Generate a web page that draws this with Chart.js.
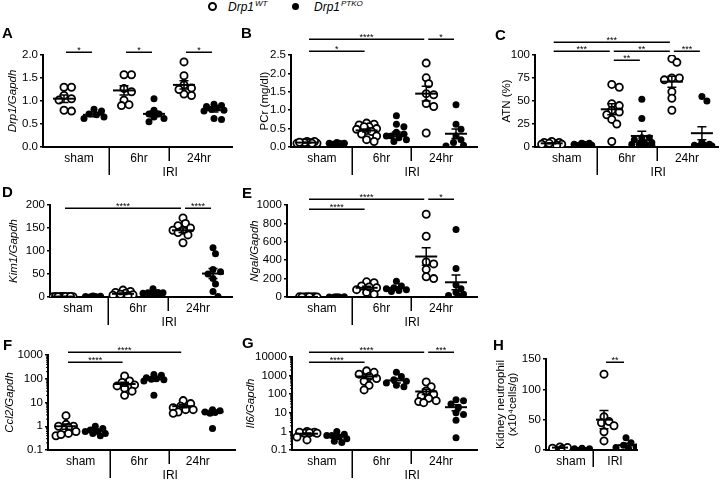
<!DOCTYPE html>
<html><head><meta charset="utf-8">
<script src="https://cdn.jsdelivr.net/npm/chart.js@4"></script>
<style>
html,body{margin:0;padding:0;background:#fff;}
#wrap{position:relative;width:724px;height:480px;overflow:hidden;background:#fff;}
canvas{position:absolute;left:0;top:0;}
.leg{position:absolute;font:italic 12px 'Liberation Sans',Arial,sans-serif;color:#000;line-height:14px;white-space:nowrap}
.leg sup{font-size:8px;vertical-align:0;position:relative;top:-5px;margin-left:1px}
.mk{position:absolute;border-radius:50%;box-sizing:border-box}
</style></head><body>
<div id="wrap">
 <div class="mk" style="left:208px;top:2px;width:9px;height:9px;border:2px solid #000"></div>
 <div class="leg" style="left:228px;top:0px">Drp1<sup>WT</sup></div>
 <div class="mk" style="left:292px;top:3px;width:7px;height:7px;background:#000"></div>
 <div class="leg" style="left:314px;top:0px">Drp1<sup>PTKO</sup></div>
</div>
<script>
// ---------------- data ----------------
const groupsIRI = ['sham','6hr','24hr'];
const groupsH = ['sham','IRI'];

const A_ticks = ['0.0','0.5','1.0','1.5','2.0'];
const A_wt = [[1.30,1.30,1.12,1.05,1.02,0.78,0.80],[1.57,1.57,1.27,1.20,1.02,0.90,0.92],[1.85,1.55,1.35,1.28,1.15,1.12,1.25]];
const A_ko = [[0.82,0.78,0.70,0.65,0.62,0.72],[1.05,0.80,0.72,0.65,0.55,0.62,0.72],[0.93,0.90,0.88,0.85,0.80,0.78,0.62,0.60,0.82]];
const A_mean = [1.05,0.70,1.23,0.72,1.35,0.80];
const A_sem = [0.08,0.04,0.10,0.06,0.09,0.04];
const A_sig = [[0,1,2.07,'*'],[2,3,2.07,'*'],[4,5,2.07,'*']];

const B_ticks = ['0.0','0.5','1.0','1.5','2.0','2.5'];
const B_wt = [[0.15,0.12,0.10,0.15,0.12,0.10,0.13,0.10],[0.65,0.62,0.60,0.55,0.50,0.48,0.45,0.42,0.35,0.30,0.20,0.15,0.55],[2.28,1.88,1.72,1.45,1.42,1.18,1.10,0.38]];
const B_ko = [[0.10,0.08,0.10,0.12,0.08,0.10],[0.85,0.62,0.55,0.40,0.35,0.30,0.25,0.20,0.15,0.30],[1.15,0.62,0.48,0.30,0.20,0.12,0.05,0.03]];
const B_mean = [0.12,0.10,0.45,0.35,1.45,0.36];
const B_sem = [0.01,0.01,0.04,0.06,0.20,0.13];
const B_sig = [[0,2,2.61,'*'],[0,4,2.93,'****'],[4,5,2.93,'*']];

const C_ticks = ['0','25','50','75','100'];
const C_wt = [[5,4,3,2,6,5,3,2,4],[68,65,47,45,40,38,35,30,25,6],[96,92,75,75,73,60,53,40]];
const C_ko = [[4,3,2,3,4,2],[52,31,10,8,5,3,2,1,5,3,2,10],[55,50,5,3,2,1,1,2]];
const C_mean = [4,3,41,12,71,15];
const C_sem = [0.5,0.4,6,5,6,7];
const C_sig = [[0,4,114,'***'],[0,2,104,'***'],[2,4,104,'**'],[2,3,94.5,'**'],[4,5,104,'***']];

const D_ticks = ['0','50','100','150','200'];
const D_wt = [[0.5,1,0.8,1.2,0.6,0.9,1,0.7,1.1],[15,12,10,8,5,4,2,3,6],[172,160,155,150,145,145,140,135,118]];
const D_ko = [[1,1.5,2,1.2,0.8],[18,10,9,8,7,6,8,9],[107,94,60,55,50,40,28,12,1]];
const D_mean = [0.9,1.3,7,9,145,51];
const D_sem = [0.1,0.2,1.5,1.3,5,11];
const D_sig = [[0,4,193,'****'],[4,5,193,'****']];

const E_ticks = ['0','200','400','600','800','1000'];
const E_wt = [[2,1,1,3,2,1,2,1],[165,155,120,100,80,50,30,110],[900,660,380,360,300,220,200]];
const E_ko = [[1,2,1,1,2],[170,120,100,90,80,70,60],[735,310,130,90,50,30,15,10]];
const E_mean = [1,1,100,98,440,160];
const E_sem = [0.2,0.2,18,14,95,80];
const E_sig = [[0,4,1065,'****'],[0,2,957,'****'],[4,5,1065,'*']];

const F_ticks = ['0.1','1','10','100','1000'];
const F_wt = [[2.8,1.2,1.0,0.9,0.8,0.6,0.5,0.4,0.45,1.0],[130,80,70,55,50,40,30,20],[12,9,7,6,5,5,4,3.5]];
const F_ko = [[1.0,0.8,0.7,0.6,0.5,0.5,0.4,0.6],[150,140,110,100,95,90,80,20],[5,4.5,4,3.8,3.5,0.8]];
const F_mean = [1.0,0.65,60,95,7,4];
const F_sem = [0.25,0.07,12,15,1,0.6];
const F_sig = [[0,4,1337,'****'],[0,2,507,'****']];

const G_ticks = ['0.1','1','10','100','1000','10000'];
const G_wt = [[1.0,0.9,0.8,0.9,0.85,0.5,0.35,0.8],[1800,1500,1200,900,700,500,300,170],[450,250,150,100,80,60,45,40,35]];
const G_ko = [[1.0,0.7,0.6,0.5,0.4,0.3,0.25,0.6],[1500,900,600,500,400,300,250],[50,45,30,20,10,8,4,0.45]];
const G_mean = [0.75,0.55,900,550,140,20];
const G_sem = [0.08,0.1,200,150,45,7];
const G_sig = [[0,4,18600,'****'],[0,2,5370,'****'],[4,5,18600,'***']];

const H_ticks = ['0','50','100','150'];
const H_wt = [[5,3,2,4],[125,55,47,45,40,30,15]];
const H_ko = [[3,2,2],[20,12,8,5,3,4]];
const H_mean = [4,3,50,8];
const H_sem = [1,0.5,15,3];
const H_sig = [[2,3,145,'**']];

// ---------------- layout ----------------
const FAM = "'Liberation Sans', Arial, Helvetica, sans-serif";
const panels = [
 {letter:'A',lx:2,ly:38, L:43,R:232,T:55,B:147,P0:64,S:30,Xt:13, title:'Drp1/Gapdh',italic:true, log:false,ymin:0,ymax:2, ticks:A_ticks,wt:A_wt,ko:A_ko,mean:A_mean,sem:A_sem,sig:A_sig,groups:groupsIRI,iri:true},
 {letter:'B',lx:241,ly:38, L:291,R:477,T:55,B:147,P0:307,S:29.8,Xt:265, title:'PCr (mg/dl)',italic:false, log:false,ymin:0,ymax:2.5, ticks:B_ticks,wt:B_wt,ko:B_ko,mean:B_mean,sem:B_sem,sig:B_sig,groups:groupsIRI,iri:true},
 {letter:'C',lx:495,ly:40, L:535,R:722,T:55,B:147,P0:552,S:30.6,Xt:507, title:'ATN (%)',italic:false, log:false,ymin:0,ymax:100, ticks:C_ticks,wt:C_wt,ko:C_ko,mean:C_mean,sem:C_sem,sig:C_sig,groups:groupsIRI,iri:true},
 {letter:'D',lx:2,ly:197, L:50,R:232,T:205,B:297,P0:63,S:30,Xt:14, title:'Kim1/Gapdh',italic:true, log:false,ymin:0,ymax:200, ticks:D_ticks,wt:D_wt,ko:D_ko,mean:D_mean,sem:D_sem,sig:D_sig,groups:groupsIRI,iri:true},
 {letter:'E',lx:242,ly:198, L:287,R:477,T:205,B:297,P0:307,S:29.8,Xt:255, title:'Ngal/Gapdh',italic:true, log:false,ymin:0,ymax:1000, ticks:E_ticks,wt:E_wt,ko:E_ko,mean:E_mean,sem:E_sem,sig:E_sig,groups:groupsIRI,iri:true},
 {letter:'F',lx:3,ly:350, L:48,R:235,T:355,B:450,P0:66,S:29.3,Xt:10, title:'Ccl2/Gapdh',italic:true, log:true,ymin:0.1,ymax:1000, ticks:F_ticks,wt:F_wt,ko:F_ko,mean:F_mean,sem:F_sem,sig:F_sig,groups:groupsIRI,iri:true},
 {letter:'G',lx:242,ly:348, L:292,R:477,T:357,B:450,P0:307,S:29.8,Xt:251, title:'Il6/Gapdh',italic:true, log:true,ymin:0.1,ymax:10000, ticks:G_ticks,wt:G_wt,ko:G_ko,mean:G_mean,sem:G_sem,sig:G_sig,groups:groupsIRI,iri:true},
 {letter:'H',lx:493,ly:350, L:546,R:637,T:359,B:450,P0:560,S:22,Xt:501,lh:12, title:['Kidney neutrophil','(x10\u2074cells/g)'],italic:false, log:false,ymin:0,ymax:150, ticks:H_ticks,wt:H_wt,ko:H_ko,mean:H_mean,sem:H_sem,sig:H_sig,groups:groupsH,iri:false,meanHalf:8}
];

const XH = 20;
const TLH = 14;

function makeDeco(P){
  return {
    id:'deco'+P.letter,
    afterDatasetsDraw(chart){
      const ctx=chart.ctx, xs=chart.scales.x, ys=chart.scales.y;
      ctx.save();
      ctx.strokeStyle='#000'; ctx.fillStyle='#000';
      const mh = P.meanHalf || 11;
      P.mean.forEach((m,i)=>{
        const cx=xs.getPixelForValue(i);
        const ym=ys.getPixelForValue(m);
        let lo=m-P.sem[i]; if(P.log && lo<=P.ymin) lo=P.ymin;
        const yl=ys.getPixelForValue(lo), yh=ys.getPixelForValue(m+P.sem[i]);
        ctx.lineWidth=1.5;
        ctx.beginPath();
        ctx.moveTo(cx,yh); ctx.lineTo(cx,yl);
        ctx.moveTo(cx-4.5,yh); ctx.lineTo(cx+4.5,yh);
        ctx.moveTo(cx-4.5,yl); ctx.lineTo(cx+4.5,yl);
        ctx.stroke();
        ctx.lineWidth=2;
        ctx.beginPath(); ctx.moveTo(cx-mh,ym); ctx.lineTo(cx+mh,ym); ctx.stroke();
      });
      ctx.restore();
    },
    afterDraw(chart){
      const ctx=chart.ctx, xs=chart.scales.x, ys=chart.scales.y;
      ctx.save();
      ctx.strokeStyle='#000'; ctx.fillStyle='#000';
      P.sig.forEach(s=>{
        const x1=xs.getPixelForValue(s[0])+2, x2=xs.getPixelForValue(s[1])-2;
        const y=Math.round(ys.getPixelForValue(s[2]))+0.25;
        ctx.lineWidth=1.5;
        ctx.beginPath(); ctx.moveTo(x1,y); ctx.lineTo(x2,y); ctx.stroke();
        ctx.font='9px '+FAM; ctx.textAlign='center'; ctx.textBaseline='alphabetic';
        ctx.fillText(s[3],(x1+x2)/2,y+1);
      });
      if(P.log){
        ctx.lineWidth=1;
        const x0=chart.chartArea.left;
        for(let d=Math.log10(P.ymin); d<Math.log10(P.ymax); d++){
          for(let m=2;m<=9;m++){
            const y=ys.getPixelForValue(m*Math.pow(10,d));
            ctx.beginPath(); ctx.moveTo(x0-2,y); ctx.lineTo(x0,y); ctx.stroke();
          }
        }
      }
      const B=chart.chartArea.bottom;
      ctx.lineWidth=1.5;
      const xd1=Math.round(xs.getPixelForValue(1.5))+0.25;
      if(P.iri){
        const xd2=Math.round(xs.getPixelForValue(3.5))+0.25;
        ctx.beginPath();
        ctx.moveTo(xd1,B); ctx.lineTo(xd1,B+28);
        ctx.moveTo(xd2,B); ctx.lineTo(xd2,B+14);
        ctx.stroke();
        ctx.font='12px '+FAM; ctx.textAlign='center'; ctx.textBaseline='middle';
        ctx.fillText('IRI',xd2+1,B+26);
      } else {
        ctx.beginPath(); ctx.moveTo(xd1,B); ctx.lineTo(xd1,B+17); ctx.stroke();
      }
      ctx.font='bold 15px '+FAM; ctx.textAlign='left'; ctx.textBaseline='alphabetic';
      ctx.fillText(P.letter,P.lx,P.ly);
      ctx.restore();
    }
  };
}

// spread overlapping points sideways (computed from the library's own scales)
function swarm(chart){
  const xs=chart.scales.x, ys=chart.scales.y;
  const Dm=6, step=2.5, maxOff=10;
  const cands=[0];
  for(let k=1;k*step<=maxOff;k++){cands.push(k*step,-k*step);}
  chart.data.datasets.forEach(ds=>{
    const byCat={};
    ds.data.forEach((p,i)=>{ (byCat[p.c] = byCat[p.c] || []).push(i); });
    Object.keys(byCat).forEach(c=>{
      const cx=xs.getPixelForValue(+c);
      const idx=byCat[c].slice().sort((a,b)=>ds.data[b].y-ds.data[a].y);
      const placed=[];
      idx.forEach(i=>{
        const py=ys.getPixelForValue(ds.data[i].y);
        let best=0, bestD=-1, found=false;
        for(const cand of cands){
          const md = placed.length? Math.min(...placed.map(q=>Math.hypot(q[0]-cand,q[1]-py))) : Infinity;
          if(md>=Dm){best=cand;found=true;break;}
          if(md>bestD+0.01){bestD=md;best=cand;}
        }
        placed.push([best,py]);
        ds.data[i].x = xs.getValueForPixel(cx+best);
      });
    });
  });
  chart.update('none');
}

const wrap=document.getElementById('wrap');
panels.forEach(P=>{
  const cv=document.createElement('canvas');
  cv.width=724; cv.height=480;
  cv.style.width='724px'; cv.style.height='480px';
  wrap.appendChild(cv);
  const wtData=[], koData=[];
  P.wt.forEach((arr,g)=>arr.forEach(v=>wtData.push({x:2*g,y:v,c:2*g})));
  P.ko.forEach((arr,g)=>arr.forEach(v=>koData.push({x:2*g+1,y:v,c:2*g+1})));
  const lh = P.lh || TLH;
  const yW = P.L - P.Xt + lh/2;
  const xmin=(P.L-P.P0)/P.S, xmax=(P.R-P.P0)/P.S;
  const centers=P.groups.map((g,i)=>2*i+0.5);
  const ch = new Chart(cv,{
    type:'scatter',
    data:{datasets:[
      {data:koData, pointStyle:'circle', pointRadius:3.5, pointHoverRadius:3.5, pointBackgroundColor:'#000', pointBorderColor:'#000', pointBorderWidth:0},
      {data:wtData, pointStyle:'circle', pointRadius:3.6, pointHoverRadius:3.6, pointBackgroundColor:'#fff', pointBorderColor:'#000', pointBorderWidth:1.8}
    ]},
    options:{
      responsive:false, animation:false, events:[],
      layout:{padding:{left:P.L-yW, top:P.T, right:724-P.R, bottom:480-P.B-XH}},
      plugins:{legend:{display:false}, tooltip:{enabled:false}},
      scales:{
        x:{type:'linear', min:xmin, max:xmax,
           afterFit:s=>{s.height=XH;},
           afterBuildTicks:s=>{s.ticks=centers.map(v=>({value:v}));},
           ticks:{callback:(v,i)=>P.groups[i], autoSkip:false, maxRotation:0, minRotation:0, padding:4, color:'#000', font:{size:12,family:FAM}},
           grid:{display:false, drawTicks:false},
           border:{display:true,color:'#000',width:2}},
        y:{type:P.log?'logarithmic':'linear', min:P.ymin, max:P.ymax,
           afterFit:s=>{s.width=yW;},
           afterBuildTicks:s=>{s.ticks=P.ticks.map(t=>({value:parseFloat(t)}));},
           ticks:{callback:(v,i)=>P.ticks[i], autoSkip:false, padding:2, color:'#000', font:{size:11.5,family:FAM}},
           grid:{display:true, drawOnChartArea:false, drawTicks:true, tickLength:3, color:'#000', lineWidth:1.5},
           border:{display:true,color:'#000',width:2},
           title:{display:true, text:P.title, padding:0, color:'#000', font:{size:11.5,family:FAM,style:P.italic?'italic':'normal',lineHeight:lh/11.5}}}
      }
    },
    plugins:[makeDeco(P)]
  });
  swarm(ch);
});
</script>
</body></html>
